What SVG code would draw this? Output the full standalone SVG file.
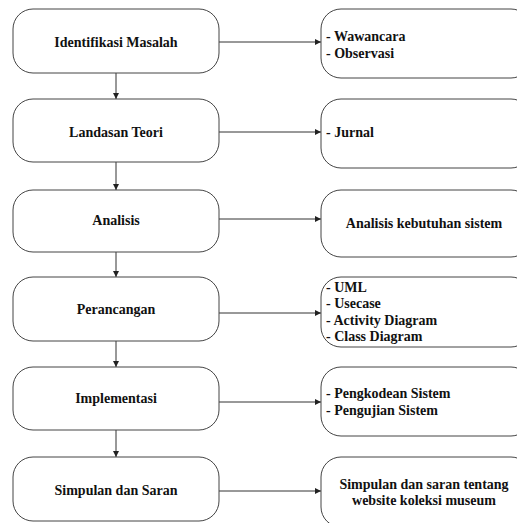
<svg xmlns="http://www.w3.org/2000/svg" width="517" height="523" viewBox="0 0 517 523">
<defs>
<marker id="ah" markerWidth="6" markerHeight="6" refX="6" refY="3" orient="auto" markerUnits="userSpaceOnUse">
<path d="M0,0 L6,3 L0,6 Z" fill="#222"/>
</marker>
<style>
.box{fill:#fff;stroke:#444;stroke-width:1}
.t{font-family:"Liberation Serif","Times New Roman",serif;font-weight:bold;font-size:14px;fill:#111}
.c{text-anchor:middle}
.ln{stroke:#333;stroke-width:1;fill:none;marker-end:url(#ah)}
</style>
</defs>
<rect width="517" height="523" fill="#fff"/>
<g id="connectors">
<line class="ln" x1="116" y1="73" x2="116" y2="99"/>
<line class="ln" x1="116" y1="162" x2="116" y2="190"/>
<line class="ln" x1="116" y1="252" x2="116" y2="277"/>
<line class="ln" x1="116" y1="341" x2="116" y2="367"/>
<line class="ln" x1="116" y1="430" x2="116" y2="457"/>
<line class="ln" x1="219" y1="42" x2="321" y2="42"/>
<line class="ln" x1="219" y1="132" x2="321" y2="132"/>
<line class="ln" x1="219" y1="219" x2="321" y2="219"/>
<line class="ln" x1="219" y1="313" x2="321" y2="313"/>
<line class="ln" x1="219" y1="402" x2="321" y2="402"/>
<line class="ln" x1="219" y1="491" x2="321" y2="491"/>
</g>
<g id="n1"><rect class="box" x="13" y="9" width="206" height="64" rx="20"/><text class="t c" x="116" y="47">Identifikasi Masalah</text></g>
<g id="n2"><rect class="box" x="13" y="99" width="206" height="63" rx="20"/><text class="t c" x="116" y="137">Landasan Teori</text></g>
<g id="n3"><rect class="box" x="13" y="190" width="206" height="62" rx="20"/><text class="t c" x="116" y="225">Analisis</text></g>
<g id="n4"><rect class="box" x="13" y="277" width="206" height="64" rx="20"/><text class="t c" x="116" y="314">Perancangan</text></g>
<g id="n5"><rect class="box" x="13" y="367" width="206" height="63" rx="20"/><text class="t c" x="116" y="403">Implementasi</text></g>
<g id="n6"><rect class="box" x="13" y="457" width="206" height="64" rx="20"/><text class="t c" x="116" y="495">Simpulan dan Saran</text></g>
<g id="r1"><rect class="box" x="321" y="9" width="210" height="69" rx="20"/><text class="t" x="326" y="41">- Wawancara</text><text class="t" x="326" y="58">- Observasi</text></g>
<g id="r2"><rect class="box" x="321" y="99" width="210" height="69" rx="20"/><text class="t" x="326" y="137">- Jurnal</text></g>
<g id="r3"><rect class="box" x="321" y="190" width="210" height="67" rx="20"/><text class="t c" x="424" y="228">Analisis kebutuhan sistem</text></g>
<g id="r4"><rect class="box" x="321" y="277" width="210" height="70" rx="20"/><text class="t" x="326" y="292">- UML</text><text class="t" x="326" y="308">- Usecase</text><text class="t" x="326" y="325">- Activity Diagram</text><text class="t" x="326" y="341">- Class Diagram</text></g>
<g id="r5"><rect class="box" x="321" y="367" width="210" height="69" rx="20"/><text class="t" x="326" y="398">- Pengkodean Sistem</text><text class="t" x="326" y="415">- Pengujian Sistem</text></g>
<g id="r6"><rect class="box" x="321" y="457" width="210" height="70" rx="20"/><text class="t c" x="424" y="489">Simpulan dan saran tentang</text><text class="t c" x="424" y="505">website koleksi museum</text></g>
</svg>
